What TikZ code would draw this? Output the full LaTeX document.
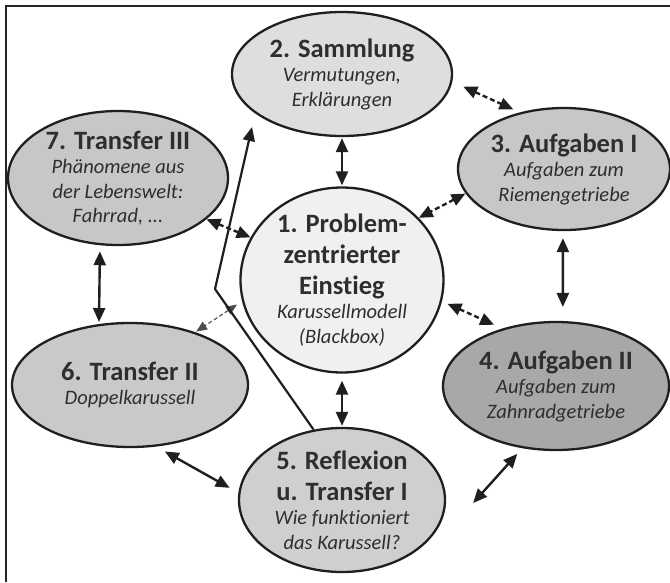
\documentclass[tikz,border=0pt]{standalone}
\usepackage{fontspec}
\setmainfont{Carlito}[Ligatures=NoCommon]
\usetikzlibrary{shapes.geometric,arrows.meta}
\newcommand\hd[1]{{\fontsize{26.5}{31}\selectfont\bfseries\upshape #1}}
\begin{document}
\begin{tikzpicture}[x=1pt,y=-1pt,
  stage/.style={ellipse,draw=black!88,line width=2.3pt,inner xsep=0pt,inner ysep=-3pt,
    align=center,text=black!82,font=\fontsize{20.5}{24.5}\selectfont\itshape},
  link/.style={draw=black!88,line width=2.4pt,
    {Triangle[length=14pt,width=12pt]}-{Triangle[length=14pt,width=12pt]}},
  dlink/.style={link,dash pattern=on 5pt off 3pt},
  tlink/.style={draw=black!70,line width=1.1pt,dash pattern=on 4pt off 2.5pt,
    {Triangle[length=11pt,width=9pt]}-{Triangle[length=11pt,width=9pt]}}]
  \useasboundingbox (0,0) rectangle (670,582);
  \draw[line width=2.6pt,black!85] (670,6) -- (6,6) -- (6,582);
  \node[stage,fill=black!6,minimum width=203pt,minimum height=185pt] (einstieg) at (342,280)
    {\hd{1. Problem-}\\[6.5pt]\hd{zentrierter}\\[6.5pt]\hd{Einstieg}\\Karussellmodell\\(Blackbox)};
  \node[stage,fill=black!13,minimum width=220pt,minimum height=124pt] (sammlung) at (342,74)
    {\hd{2. Sammlung}\\Vermutungen,\\Erklärungen};
  \node[stage,fill=black!22,minimum width=212pt,minimum height=122pt] (aufgabenI) at (564,169)
    {\hd{3. Aufgaben I}\\Aufgaben zum\\Riemengetriebe};
  \node[stage,fill=black!34,minimum width=226pt,minimum height=128pt] (aufgabenII) at (556,386)
    {\hd{4. Aufgaben II}\\Aufgaben zum\\Zahnradgetriebe};
  \node[stage,fill=black!19,minimum width=206pt,minimum height=144pt] (reflexion) at (342,500)
    {\hd{5. Reflexion}\\[6.5pt]\hd{u. Transfer I}\\Wie funktioniert\\das Karussell?};
  \node[stage,fill=black!21,minimum width=236pt,minimum height=124pt] (transferII) at (130,385)
    {\hd{6. Transfer II}\\Doppelkarussell};
  \node[stage,fill=black!22,minimum width=220pt,minimum height=134pt] (transferIII) at (118,178)
    {\hd{7. Transfer III}\\Phänomene aus\\der Lebenswelt:\\Fahrrad, ...};
  \draw[dlink,shorten <=12pt,shorten >=7pt] (sammlung.-4) -- (aufgabenI.128);
  \draw[link,shorten <=1pt,shorten >=1pt] (sammlung.south) -- (einstieg.north);
  \draw[dlink] (aufgabenI.194) -- (einstieg.39);
  \draw[dlink] (transferIII.-25) -- (einstieg.155);
  \draw[link,shorten <=6pt,shorten >=2pt] (transferIII.-105) -- (transferII.117);
  \draw[link,shorten <=7pt,shorten >=14pt] (aufgabenI.-91) -- (aufgabenII.84);
  \draw[tlink,shorten <=6pt,shorten >=1pt] (einstieg.192) -- (transferII.39);
  \draw[dlink,shorten <=6pt,shorten >=9pt] (einstieg.-12) -- (aufgabenII.133);
  \draw[link,shorten <=7pt,shorten >=1pt] (einstieg.south) -- (reflexion.north);
  \draw[link,shorten <=10pt,shorten >=10pt] (transferII.-67) -- (reflexion.176);
  \draw[link] ([shift={(27,3)}]reflexion.east) -- ([shift={(-3,6)}]aufgabenII.-120);
  \coordinate (bend) at (215,289);
  \coordinate (tip) at (252,127);
  \draw[draw=black!88,line width=2.2pt,-{Triangle[length=14pt,width=12pt]}]
    (reflexion.112) -- (bend) -- (tip);
\end{tikzpicture}
\end{document}
